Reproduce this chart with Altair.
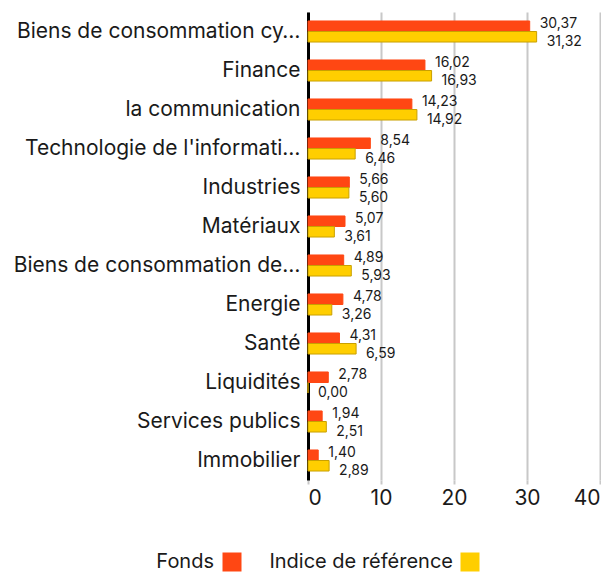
import altair as alt
import pandas as pd

categories = [
    "Biens de consommation cy…",
    "Finance",
    "la communication",
    "Technologie de l'informati…",
    "Industries",
    "Matériaux",
    "Biens de consommation de…",
    "Energie",
    "Santé",
    "Liquidités",
    "Services publics",
    "Immobilier",
]
fonds = [30.37, 16.02, 14.23, 8.54, 5.66, 5.07, 4.89, 4.78, 4.31, 2.78, 1.94, 1.40]
indice = [31.32, 16.93, 14.92, 6.46, 5.60, 3.61, 5.93, 3.26, 6.59, 0.00, 2.51, 2.89]
series = ["Fonds", "Indice de référence"]
colors = ["#FF4713", "#FFCE00"]
strokes = ["#FF4713", "#C9A000"]
x_ticks = [0, 10, 20, 30, 40]

rows = []
for c, f, i in zip(categories, fonds, indice):
    rows.append({"cat": c, "series": series[0], "value": f, "label": f"{f:.2f}".replace(".", ",")})
    rows.append({"cat": c, "series": series[1], "value": i, "label": f"{i:.2f}".replace(".", ",")})
df = pd.DataFrame(rows)

FONT = "Inter"
TXT = "#1a1a1a"

y_enc = alt.Y(
    "cat:N",
    sort=categories,
    title=None,
    scale=alt.Scale(paddingInner=0.46, paddingOuter=0.23),
    axis=alt.Axis(
        domainColor="black", domainWidth=3, ticks=False, labelFontSize=21,
        labelColor=TXT, labelPadding=8, labelLimit=400, labelFont=FONT,
    ),
)
yoff = alt.YOffset("series:N", sort=series, scale=alt.Scale(paddingInner=0, paddingOuter=0))
x_enc = alt.X(
    "value:Q",
    title=None,
    scale=alt.Scale(domain=[0, 40], nice=False),
    axis=alt.Axis(
        values=x_ticks, grid=True, gridColor="#c8c8c8", gridWidth=2, domain=False,
        tickColor="#c8c8c8", tickSize=4, tickWidth=2, labelFontSize=21, labelColor=TXT,
        labelPadding=3, labelFont=FONT,
    ),
)

base = alt.Chart(df).encode(y=y_enc, yOffset=yoff, x=x_enc)

bars = base.mark_bar(strokeWidth=1).encode(
    color=alt.Color("series:N", scale=alt.Scale(domain=series, range=colors), legend=None),
    stroke=alt.Stroke("series:N", scale=alt.Scale(domain=series, range=strokes), legend=None),
)

txt_f = base.transform_filter(alt.datum.series == series[0]).mark_text(
    align="left", dx=10, dy=-2, fontSize=14, color=TXT, font=FONT
).encode(text="label:N")
txt_i = base.transform_filter(alt.datum.series == series[1]).mark_text(
    align="left", dx=10, dy=5, fontSize=14, color=TXT, font=FONT
).encode(text="label:N")

leg_f = pd.DataFrame({"series": [series[0]]})
leg_i = pd.DataFrame({"series": [series[1]]})


def leg_text(d, xr):
    return alt.Chart(d).mark_text(
        align="right", baseline="middle", fontSize=20, color=TXT, font=FONT
    ).encode(text="series:N", x=alt.value(xr), y=alt.value(550))


def leg_sq(d, xc, col):
    return alt.Chart(d).mark_square(size=361, opacity=1, filled=True, color=col).encode(
        x=alt.value(xc), y=alt.value(550)
    )


chart = (
    alt.layer(
        bars, txt_f, txt_i,
        leg_text(leg_f, -94), leg_sq(leg_f, -76, colors[0]),
        leg_text(leg_i, 145), leg_sq(leg_i, 162, colors[1]),
    )
    .properties(width=292, height=468, padding={"top": 4, "left": 5, "right": 0, "bottom": 0})
    .configure_view(stroke=None)
)
chart.save("out.html", embed_options={"renderer": "svg", "actions": False})
